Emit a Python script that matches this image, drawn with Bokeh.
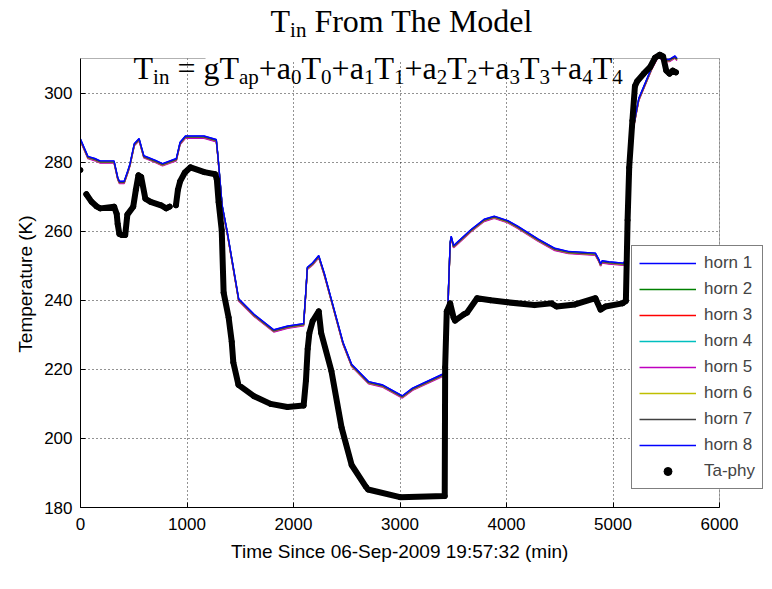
from bokeh.plotting import figure
from bokeh.models import Range1d, Label, Legend, LegendItem, ColumnDataSource, BoxAnnotation, Title
from bokeh.embed import file_html
from bokeh.resources import INLINE

NaN = float("nan")

# ---------------- data ----------------
horn_t = [0, 70, 135, 185, 315, 350, 365, 410, 445, 465, 505, 550, 575, 595, 700, 770,
          900, 935, 985, 1160, 1275, 1290, 1330, 1375, 1425, 1485, 1630, 1815, 1945, 2095,
          2115, 2130, 2180, 2237, 2290, 2370, 2465, 2546, 2705, 2832, 3022, 3117, 3403,
          3430, 3440, 3455, 3471, 3481, 3503, 3535, 3662, 3790, 3885, 4013, 4105, 4295,
          4454, 4581, 4835, 4867, 4883, 4898, 4962, 5100, 5121, 5140, 5160, 5190, 5242,
          5303, 5364, 5424, 5485, 5530, 5582, 5600]
horn_T = [286.6, 281.6, 281.0, 280.3, 280.3, 275.5, 274.4, 274.4, 277.5, 279.5, 285.3,
          286.8, 284.0, 281.8, 280.5, 279.5, 281.0, 285.7, 287.5, 287.5, 286.5, 282.0,
          267.5, 260.3, 251.3, 240.4, 235.9, 231.4, 232.5, 233.2, 242.2, 249.5, 250.8,
          252.9, 247.7, 238.6, 227.8, 221.4, 216.4, 215.5, 212.3, 214.5, 218.6, 219.0,
          222.0, 243.2, 256.7, 258.5, 255.8, 256.7, 260.3, 263.4, 264.3, 263.0, 261.4,
          257.7, 255.0, 254.1, 253.6, 251.8, 250.5, 251.4, 251.1, 250.7, 252.0, 262.0,
          278.0, 290.0, 298.4, 302.9, 307.4, 311.0, 309.7, 309.7, 310.7, 310.0]
horn_offsets = [0.0, -0.3, -0.45, -0.2, -0.6, -0.35, -0.25, 0.05]
horn_names = ["horn 1", "horn 2", "horn 3", "horn 4", "horn 5", "horn 6", "horn 7", "horn 8"]
horn_colors = ["#0000ff", "#008000", "#ff0000", "#00bfbf", "#bf00bf", "#bfbf00", "#404040", "#0000ff"]

taphy_t = [0, NaN,
           55, 104, 150, 186, 316, 340, 349, 365, 388, 420, 440, 495, 520, 544, 570, 609,
           658, 756, 805, 837, NaN,
           896, 915, 935, 980, 1033, 1163, 1265, 1280, 1297, 1326, 1344, 1391, 1420, 1435,
           1483, 1625, 1784, 1943, 2095, 2117, 2133, 2149, 2180, 2237, 2260, 2356, 2451,
           2546, 2680, 2700, 3000, 3420, 3424, 3439, 3471, 3503, 3517, 3599, 3629, 3724,
           3851, 4010, 4263, 4422, 4470, 4644, 4835, 4883, 4930, 5089, 5121, 5137, 5152,
           5182, 5206, 5227, 5288, 5348, 5394, 5439, 5470, 5500, 5530, 5561, 5591]
taphy_T = [277.7, NaN,
           270.7, 268.5, 267.2, 266.6, 267.1, 265.0, 262.1, 259.2, 258.9, 258.9, 264.8,
           267.1, 272.0, 276.2, 275.7, 269.4, 268.5, 267.5, 266.6, 267.1, NaN,
           267.5, 272.0, 274.4, 277.0, 278.5, 277.1, 276.5, 275.0, 268.4, 260.3, 242.2,
           235.0, 228.0, 222.0, 215.5, 212.3, 210.0, 209.1, 209.5, 216.8, 225.9, 230.5,
           234.0, 236.8, 230.5, 219.5, 203.2, 192.3, 186.0, 185.2, 183.0, 183.3, 220.6,
           236.8, 239.1, 235.0, 234.1, 235.9, 236.4, 240.6, 240.0, 239.4, 238.6, 239.1,
           238.2, 238.8, 240.6, 237.3, 238.2, 239.1, 239.8, 263.2, 278.4, 292.0, 302.0,
           303.4, 305.6, 307.5, 310.2, 311.1, 310.6, 306.5, 305.6, 306.5, 306.0]

x_lim = [0, 6000]
y_lim = [180, 310]
x_ticks = [0, 1000, 2000, 3000, 4000, 5000, 6000]
y_ticks = [180, 200, 220, 240, 260, 280, 300]
x_label = "Time Since 06-Sep-2009 19:57:32 (min)"
y_label = "Temperature (K)"
title_pieces = [("T", 0), ("in", 1), (" From The Model", 0)]
eq_pieces = [("T", 0), ("in", 1), (" = gT", 0), ("ap", 1),
             ("+a", 0), ("0", 1), ("T", 0), ("0", 1),
             ("+a", 0), ("1", 1), ("T", 0), ("1", 1),
             ("+a", 0), ("2", 1), ("T", 0), ("2", 1),
             ("+a", 0), ("3", 1), ("T", 0), ("3", 1),
             ("+a", 0), ("4", 1), ("T", 0), ("4", 1)]

# ---------------- layout (pixels) ----------------
W, H = 764, 573
FL, FR, FT, FB = 80, 719, 58, 507          # visible axes box
px_per_x = (FR - FL) / (x_lim[1] - x_lim[0])
px_per_y = (FB - FT) / (y_lim[1] - y_lim[0])
x_end = x_lim[0] + (W - FL) / px_per_x     # plotting frame reaches canvas right/top
y_end = y_lim[0] + FB / px_per_y

SANS = "Liberation Sans"
SERIF = "Liberation Serif"
LBL = 19

# Arial/Liberation Sans advance widths (per 1000 em) for centring the axis titles
ARIAL = {'T': 611, 'i': 222, 'm': 833, 'e': 556, ' ': 278, 'S': 667, 'n': 556, 'c': 500,
         '0': 556, '6': 556, '-': 333, 'p': 556, '2': 556, '9': 556, '1': 556, ':': 278,
         '5': 556, '7': 556, '3': 556, '(': 333, ')': 333, 'r': 333, 'a': 556, 't': 278,
         'u': 556, 'K': 667}


def sans_w(s, size):
    return sum(ARIAL.get(c, 556) for c in s) * size / 1000.0


p = figure(width=W, height=H, output_backend="svg", toolbar_location=None,
           x_range=Range1d(x_lim[0], x_end), y_range=Range1d(y_lim[0], y_end),
           min_border_left=FL, min_border_right=0, min_border_top=0, min_border_bottom=H - FB)
p.title.visible = False
p.background_fill_color = "white"
p.border_fill_color = "white"
p.outline_line_color = None

for ax in (p.xaxis[0], p.yaxis[0]):
    ax.axis_line_color = "black"
    ax.major_tick_line_color = "black"
    ax.major_tick_in = 5
    ax.major_tick_out = 0
    ax.minor_tick_line_color = None
    ax.major_label_text_font = SANS
    ax.major_label_text_font_size = "17px"
    ax.major_label_text_color = "black"
p.xaxis.ticker = x_ticks
p.yaxis.ticker = y_ticks
p.xaxis.bounds = tuple(x_lim)
p.yaxis.bounds = tuple(y_lim)
p.xaxis.major_label_standoff = 10
p.yaxis.major_label_standoff = 8

# axis titles centred on the visible axes box (offset measured from the panel start)
p.add_layout(Title(text=x_label, align="left",
                   offset=(FR - FL) / 2 - sans_w(x_label, LBL) / 2,
                   text_font=SANS, text_font_size=f"{LBL}px", text_font_style="normal",
                   text_color="black", standoff=12), "below")
p.add_layout(Title(text=y_label, align="left",
                   offset=(FB - FT) / 2 - sans_w(y_label, LBL) / 2,
                   text_font=SANS, text_font_size=f"{LBL}px", text_font_style="normal",
                   text_color="black", standoff=12), "left")

p.xgrid.ticker = x_ticks
p.ygrid.ticker = y_ticks
for g in (p.xgrid[0], p.ygrid[0]):
    g.grid_line_color = "black"
    g.grid_line_dash = "1 3"
    g.grid_line_width = 1
    g.grid_line_alpha = 0.85

# hide grid outside the axes box
p.add_layout(BoxAnnotation(bottom=y_lim[1], fill_color="white", fill_alpha=1,
                           line_color=None, level="underlay"))
p.add_layout(BoxAnnotation(left=x_lim[1], fill_color="white", fill_alpha=1,
                           line_color=None, level="underlay"))

items = []
for name, col, off in zip(horn_names, horn_colors, horn_offsets):
    r = p.line(horn_t, [v + off for v in horn_T], line_color=col, line_width=1.4)
    items.append(LegendItem(label=name, renderers=[r]))

src = ColumnDataSource(dict(t=taphy_t, T=taphy_T))
p.line("t", "T", source=src, line_color="black", line_width=6, line_join="round", line_cap="round")
dots = p.scatter("t", "T", source=src, marker="circle", size=5, color="black")
items.append(LegendItem(label="Ta-phy", renderers=[dots]))

# axes box
p.add_layout(BoxAnnotation(left=x_lim[0], right=x_lim[1], bottom=y_lim[0], top=y_lim[1],
                           fill_alpha=0, line_color="black", line_width=1, level="annotation"))
# the break in the top edge of the box seen in the reference
p.add_layout(BoxAnnotation(left=1174, right=4789, bottom=y_lim[1] - 0.4, top=y_lim[1] + 0.5,
                           fill_color="white", fill_alpha=1, line_color=None, level="annotation"))

legend = Legend(items=items, location=(631 - FL, FB - 489), glyph_width=57, glyph_height=20,
                label_height=20, spacing=6, padding=7, label_standoff=8, margin=0,
                label_text_font=SANS, label_text_font_size="17px",
                border_line_color="black", border_line_width=1,
                background_fill_color="white", background_fill_alpha=1)
p.add_layout(legend, "center")

# ---------------- subscripted serif texts ----------------
TIMES = {'T': 611, 'i': 278, 'n': 500, ' ': 250, 'F': 556, 'r': 333, 'o': 500, 'm': 778,
         'h': 500, 'e': 444, 'M': 889, 'd': 500, 'l': 278, '=': 564, 'g': 500, 'a': 444,
         'p': 500, '+': 564, '0': 500, '1': 500, '2': 500, '3': 500, '4': 500}
MAIN, SUB, DROP = 32, 21, 9
LIFT = 13


def adv(s, size):
    return sum(TIMES.get(c, 500) for c in s) * size / 1000.0


def place(pieces, x0, base):
    x = x0
    for txt, sub in pieces:
        size = SUB if sub else MAIN
        lead = len(txt) - len(txt.lstrip(" "))
        x += adv(" " * lead, size)
        core = txt.strip(" ")
        p.add_layout(Label(x=x, y=base - (DROP if sub else 0), x_units="screen", y_units="screen",
                           text=core, text_font=SERIF, text_font_size=f"{size}px",
                           text_color="black", text_baseline="alphabetic", text_align="left"))
        x += adv(txt.lstrip(" "), size)


# positions relative to the plotting frame (left edge, bottom edge)
place(title_pieces, 270 - FL, FB - 33 + LIFT)
place(eq_pieces, 133 - FL, FB - 80 + LIFT)

open("out.html", "w").write(file_html(p, INLINE))
